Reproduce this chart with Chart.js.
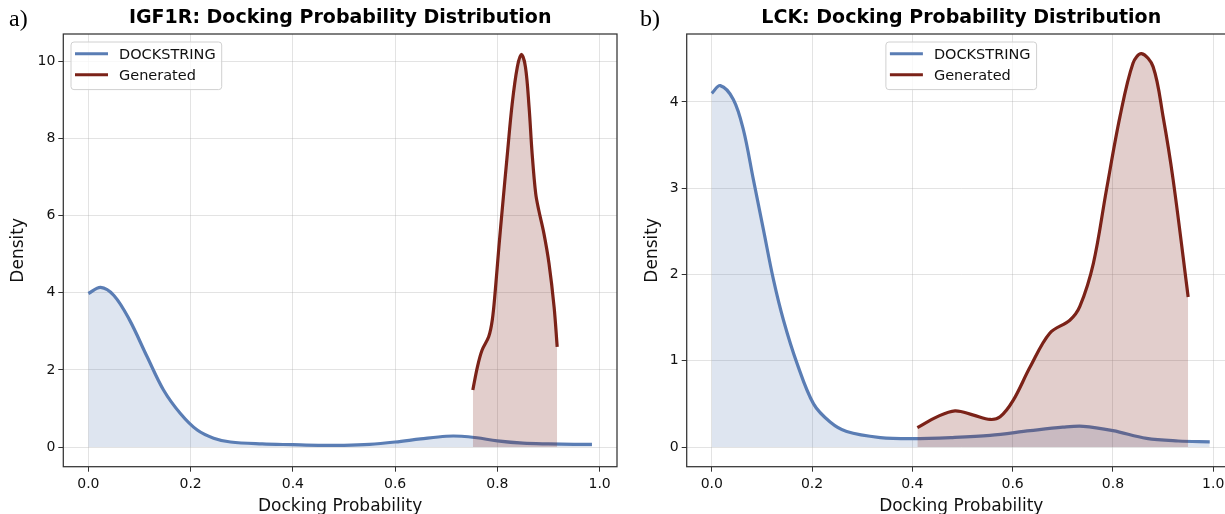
<!DOCTYPE html>
<html>
<head>
<meta charset="utf-8">
<script src="https://cdn.jsdelivr.net/npm/chart.js@4.4.0/dist/chart.umd.min.js"></script>
<style>
html, body { margin: 0; padding: 0; overflow: hidden; background: #fff; }
#wrap { position: relative; width: 1225px; height: 514px; overflow: hidden; }
canvas { position: absolute; top: 0; }
#igf-chart { left: 0; }
#lck-chart { left: 620px; }
.panel-tag { position: absolute; font: 24px "Liberation Serif", serif; line-height: 24px; color: #000; }
</style>
</head>
<body>
<div id="wrap">
    <canvas id="igf-chart" width="640" height="514"></canvas>
    <canvas id="lck-chart" width="640" height="514"></canvas>
    <div class="panel-tag" style="left: 9px; top: 6px;">a)</div>
    <div class="panel-tag" style="left: 640px; top: 6px;">b)</div>
</div>
<script>
// tick labels
const xTicks = [0, 0.2, 0.4, 0.6, 0.8, 1.0];
const igfYTicks = [0, 2, 4, 6, 8, 10];
const lckYTicks = [0, 1, 2, 3, 4];

// IGF1R - DOCKSTRING density
const igfDockX = [0.00, 0.024, 0.05, 0.08, 0.115, 0.147, 0.18, 0.213, 0.245, 0.278, 0.34, 0.40, 0.45, 0.50, 0.55, 0.60, 0.65, 0.70, 0.73, 0.76, 0.80, 0.85, 0.90, 0.95, 0.985];
const igfDockY = [3.98, 4.14, 3.93, 3.31, 2.34, 1.48, 0.87, 0.44, 0.23, 0.13, 0.08, 0.06, 0.045, 0.045, 0.07, 0.13, 0.21, 0.28, 0.28, 0.24, 0.16, 0.10, 0.08, 0.07, 0.07];

// IGF1R - Generated density
const igfGenX = [0.752, 0.761, 0.770, 0.783, 0.790, 0.796, 0.803, 0.810, 0.819, 0.829, 0.839, 0.847, 0.855, 0.862, 0.868, 0.875, 0.881, 0.891, 0.901, 0.911, 0.917];
const igfGenY = [1.48, 2.08, 2.51, 2.86, 3.29, 4.07, 5.19, 6.23, 7.52, 8.90, 9.85, 10.18, 9.85, 8.82, 7.61, 6.57, 6.14, 5.54, 4.76, 3.63, 2.60];

// LCK - DOCKSTRING density
const lckDockX = [0.0, 0.017, 0.043, 0.063, 0.083, 0.103, 0.123, 0.143, 0.17, 0.203, 0.236, 0.269, 0.336, 0.40, 0.48, 0.555, 0.635, 0.70, 0.741, 0.80, 0.867, 0.93, 0.993];
const lckDockY = [4.10, 4.19, 4.03, 3.68, 3.10, 2.52, 1.94, 1.47, 0.97, 0.50, 0.29, 0.18, 0.11, 0.097, 0.11, 0.135, 0.19, 0.23, 0.24, 0.19, 0.10, 0.07, 0.06];

// LCK - Generated density
const lckGenX = [0.410, 0.449, 0.485, 0.522, 0.555, 0.575, 0.601, 0.635, 0.674, 0.714, 0.734, 0.761, 0.787, 0.814, 0.840, 0.857, 0.880, 0.900, 0.920, 0.950];
const lckGenY = [0.225, 0.35, 0.42, 0.37, 0.32, 0.35, 0.54, 0.93, 1.32, 1.47, 1.63, 2.13, 2.98, 3.83, 4.45, 4.56, 4.41, 3.83, 3.10, 1.74];

const fontFamily = "'DejaVu Sans', sans-serif";
const blue = "#5A7DB4";
const blueFill = "rgba(90, 125, 180, 0.2)";
const red = "#7B2218";
const redFill = "rgba(123, 34, 24, 0.22)";
const gridColor = "rgba(176, 176, 176, 0.35)";

function toPoints(xs, ys) {
    return xs.map((x, i) => ({ x: x, y: ys[i] }));
}

// matplotlib style box round the plot
const frameBox = {
    id: "frameBox",
    afterDraw(chart) {
        const { ctx, chartArea } = chart;
        ctx.save();
        ctx.strokeStyle = "#333";
        ctx.lineWidth = 1.25;
        ctx.strokeRect(chartArea.left, chartArea.top, chartArea.right - chartArea.left, chartArea.bottom - chartArea.top);
        ctx.restore();
    }
};

// legend drawn inside the plot area
const legendBox = {
    id: "legendBox",
    afterDatasetsDraw(chart, args, opts) {
        const { ctx, chartArea } = chart;
        const datasets = chart.data.datasets;
        ctx.save();
        ctx.font = "14.5px " + fontFamily;
        const textW = Math.max(...datasets.map(d => ctx.measureText(d.label).width));
        const w = 48 + textW + 6;
        const h = 47.6;
        const x = opts.align === "center" ? (chartArea.left + chartArea.right) / 2 - w / 2 : chartArea.left + 7.7;
        const y = chartArea.top + 8;

        ctx.beginPath();
        ctx.roundRect(x, y, w, h, 3);
        ctx.fillStyle = "rgba(255, 255, 255, 0.8)";
        ctx.fill();
        ctx.strokeStyle = "#d0d0d0";
        ctx.lineWidth = 1;
        ctx.stroke();

        datasets.forEach((d, i) => {
            const rowY = y + 11.8 + i * 21;
            ctx.beginPath();
            ctx.moveTo(x + 4, rowY);
            ctx.lineTo(x + 37, rowY);
            ctx.strokeStyle = d.borderColor;
            ctx.lineWidth = 3;
            ctx.stroke();
            ctx.fillStyle = "#111";
            ctx.textBaseline = "middle";
            ctx.fillText(d.label, x + 48, rowY + 1);
        });
        ctx.restore();
    }
};

function createDensityChart(canvasId, cfg) {
    const ctx = document.querySelector(canvasId);
    const data = {
        datasets: [{
            label: "DOCKSTRING",
            data: toPoints(cfg.dockX, cfg.dockY),
            borderColor: blue,
            backgroundColor: blueFill,
            borderWidth: 3.2,
            pointRadius: 0,
            fill: "origin",
            tension: 0.35,
            order: 2
        }, {
            label: "Generated",
            data: toPoints(cfg.genX, cfg.genY),
            borderColor: red,
            backgroundColor: redFill,
            borderWidth: 3.2,
            pointRadius: 0,
            fill: "origin",
            tension: 0.35,
            order: 1
        }]
    };
    const options = {
        responsive: false,
        animation: false,
        devicePixelRatio: 1,
        layout: {
            padding: { left: 0, top: 0, right: cfg.padRight, bottom: 0 }
        },
        scales: {
            x: {
                type: "linear",
                min: cfg.xMin,
                max: cfg.xMax,
                afterBuildTicks: scale => { scale.ticks = xTicks.map(v => ({ value: v })); },
                afterFit: scale => { scale.height = 47.3; },
                border: { display: false },
                grid: { color: gridColor, lineWidth: 1, drawTicks: true, tickLength: 5, tickColor: "#333", tickWidth: 1 },
                ticks: {
                    padding: 4,
                    color: "#111",
                    autoSkip: false,
                    maxRotation: 0,
                    font: { family: fontFamily, size: 14 },
                    callback: v => v.toFixed(1)
                },
                title: {
                    display: true,
                    text: "Docking Probability",
                    color: "#111",
                    font: { family: fontFamily, size: 17, lineHeight: 0.9 },
                    padding: { top: 0, bottom: 0 }
                }
            },
            y: {
                type: "linear",
                min: cfg.yMin,
                max: cfg.yMax,
                afterBuildTicks: scale => { scale.ticks = cfg.yTicks.map(v => ({ value: v })); },
                afterFit: scale => { scale.width = cfg.yWidth; },
                border: { display: false },
                grid: { color: gridColor, lineWidth: 1, drawTicks: true, tickLength: 5, tickColor: "#333", tickWidth: 1 },
                ticks: {
                    padding: 3,
                    color: "#111",
                    autoSkip: false,
                    font: { family: fontFamily, size: 14 },
                    callback: v => String(v)
                },
                title: {
                    display: true,
                    text: "Density",
                    color: "#111",
                    font: { family: fontFamily, size: 17, lineHeight: 1 },
                    padding: { top: cfg.yTitlePad, bottom: 0 }
                }
            }
        },
        plugins: {
            legend: { display: false },
            tooltip: { enabled: false },
            title: {
                display: true,
                text: cfg.title,
                fullSize: false,
                color: "#000",
                font: { family: fontFamily, size: 19, weight: "bold", lineHeight: 1.2 },
                padding: { top: 7, bottom: 4.2 }
            },
            legendBox: { align: cfg.legendAlign }
        }
    };
    const config = {
        type: "line",
        data: data,
        options: options,
        plugins: [frameBox, legendBox]
    };
    return new Chart(ctx, config);
}

createDensityChart("#igf-chart", {
    title: "IGF1R: Docking Probability Distribution",
    dockX: igfDockX, dockY: igfDockY,
    genX: igfGenX, genY: igfGenY,
    xMin: -0.049, xMax: 1.034,
    yMin: -0.51, yMax: 10.71,
    yTicks: igfYTicks,
    yWidth: 63.3,
    yTitlePad: 10,
    padRight: 23,
    legendAlign: "left"
});

createDensityChart("#lck-chart", {
    title: "LCK: Docking Probability Distribution",
    dockX: lckDockX, dockY: lckDockY,
    genX: lckGenX, genY: lckGenY,
    xMin: -0.05, xMax: 1.045,
    yMin: -0.228, yMax: 4.788,
    yTicks: lckYTicks,
    yWidth: 66.7,
    yTitlePad: 24,
    padRight: 24.2,
    legendAlign: "center"
});
</script>
</body>
</html>
